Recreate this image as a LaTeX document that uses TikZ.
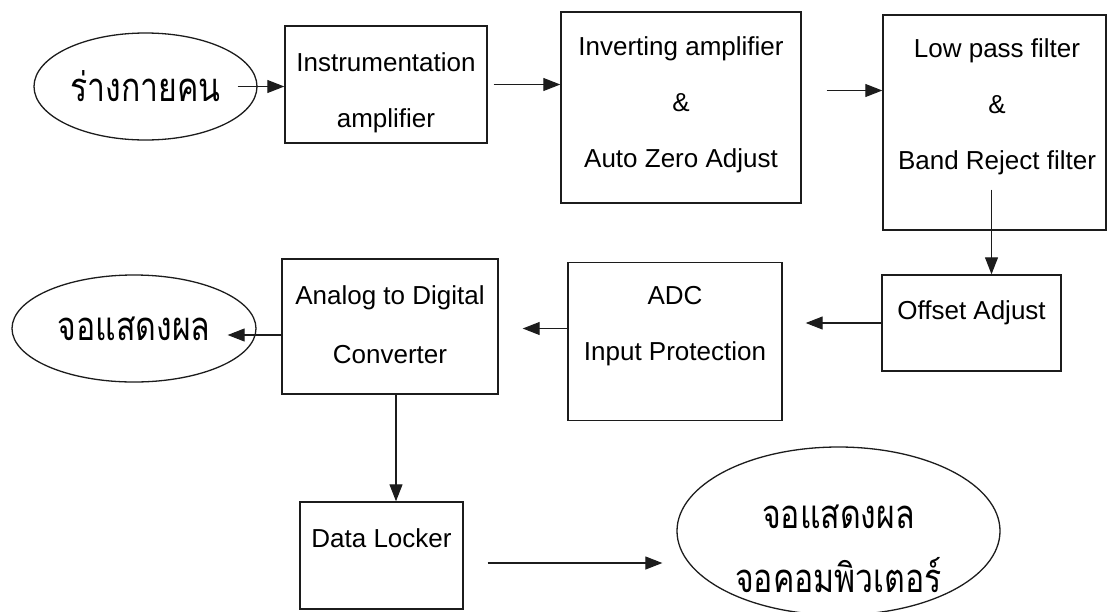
\documentclass[tikz,border=0pt]{standalone}
\usepackage{fontspec}
\setmainfont{Liberation Sans}
\newfontfamily\thaifont[Script=Thai,FakeStretch=0.8]{Loma}
\usetikzlibrary{arrows.meta,calc,shapes.geometric}
\definecolor{ink}{HTML}{1C1C1C}
\tikzset{
  block/.style 2 args={
    draw=ink,line width=1.4pt,inner sep=0pt,
    minimum width=#1pt,minimum height=#2pt
  },
  boxtext/.style={align=center,font=\fontsize{26}{56}\selectfont},
  thaitext/.style={align=center,inner sep=0pt,font=\thaifont\fontsize{40}{64}\selectfont},
  terminal/.style 2 args={
    ellipse,draw=ink,line width=1.3pt,inner sep=0pt,
    minimum width=#1pt,minimum height=#2pt,thaitext
  },
  arrow/.style={-{Triangle[length=17pt,width=13pt]},draw=ink,line width=1.1pt}
}

\begin{document}
\begin{tikzpicture}[x=1pt,y=-1pt]
\useasboundingbox (0,0) rectangle (1107,611);

\node[terminal={223}{107}] (body) at (145.5,86.5) {ร่างกายคน};
\node[block={202}{117},
  label={[boxtext,yshift=-8pt]center:{Instrumentation\\amplifier}}]
  (instr) at (386,84.5) {};
\node[block={240}{191},
  label={[boxtext,yshift=2.5pt]center:{Inverting amplifier\\\&\\Auto Zero Adjust}}]
  (invert) at (681,107.5) {};
\node[block={223}{215},
  label={[boxtext,xshift=2.5pt,yshift=16pt]center:{Low pass filter\\\&\\Band Reject filter}}]
  (lowpass) at (994.5,122.5) {};

\node[block={179}{96},
  label={[boxtext,yshift=10pt]center:Offset Adjust}]
  (offset) at (971.5,323) {};
\node[block={214}{158},
  label={[boxtext,yshift=15.5pt]center:{ADC\\Input Protection}}]
  (adcprot) at (675,341.5) {};
\node[block={216}{135},
  label={[boxtext,font=\fontsize{26}{59}\selectfont,yshift=1.5pt]center:{Analog to Digital\\Converter}}]
  (adcconv) at (390,326.5) {};
\node[terminal={244}{107}] (screen) at (134,328.5) {จอแสดงผล};

\node[block={163}{107},
  label={[boxtext,yshift=17.5pt]center:Data Locker}]
  (locker) at (381.5,555.5) {};
\node[terminal={323}{168},
  label={[thaitext,yshift=-18pt]center:{จอแสดงผล\\จอคอมพิวเตอร์}}]
  (pc) at (838.5,531) {};

\draw[arrow] ($(body.east)+(-20,0)$) -- (body.east -| instr.west);
\draw[arrow] ($(instr.east)+(6,0)$) -- (instr.east -| invert.west);
\draw[arrow] ($(invert.east)+(25,-17)$) -- ($(invert.east -| lowpass.west)+(0,-17)$);
\draw[arrow] ($(lowpass.south)+(-3,-41)$) -- ($(lowpass.south |- offset.north)+(-3,0)$);
\draw[arrow] (offset.west) -- ($(offset.west -| adcprot.east)+(23,0)$);
\draw[arrow] ($(adcprot.west)+(0,-13)$) -- ($(adcprot.west -| adcconv.east)+(24,-13)$);
\draw[arrow] ($(adcconv.west)+(0,8.5)$) -- ($(adcconv.west -| screen.east)+(-29,8.5)$);
\draw[arrow] ($(adcconv.south)+(6,0)$) -- ($(adcconv.south |- locker.north)+(6,0)$);
\draw[arrow] ($(locker.east)+(24,7.5)$) -- ($(locker.east -| pc.west)+(-14,7.5)$);
\end{tikzpicture}
\end{document}
